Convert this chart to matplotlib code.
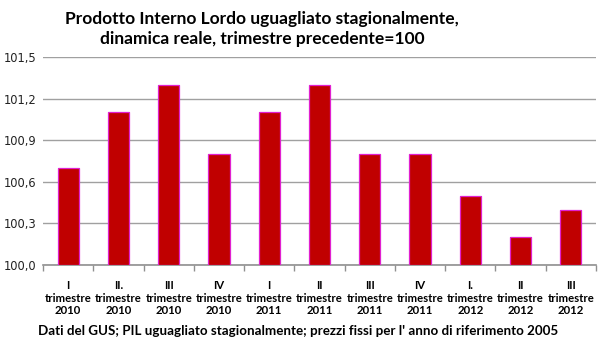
import numpy as np
import matplotlib
matplotlib.use('Agg')
import matplotlib.pyplot as plt

# quarterly GDP, previous quarter = 100
quarters = ['I', 'II.', 'III', 'IV', 'I', 'II', 'III', 'IV', 'I.', 'II', 'III']
years = ['2010', '2010', '2010', '2010', '2011', '2011', '2011', '2011', '2012', '2012', '2012']
values = [100.7, 101.1, 101.3, 100.8, 101.1, 101.3, 100.8, 100.8, 100.5, 100.2, 100.4]
yticks = [100.0, 100.3, 100.6, 100.9, 101.2, 101.5]

fig = plt.figure(figsize=(6, 3.52), dpi=100)
ax = fig.add_axes([43/600, (352-265)/352, 553/600, 208/352])

x = np.arange(len(values)) + 0.5
ax.bar(x, np.array(values) - 100.0, bottom=100.0, width=0.42,
       color='#c00000', edgecolor='#e020d0', linewidth=0.9, zorder=3)

ax.set_xlim(0, len(values))
ax.set_ylim(100.0, 101.5)
ax.set_yticks(yticks)
ax.set_yticklabels([('%.1f' % v).replace('.', ',') for v in yticks],
                   fontsize=8.3, family='DejaVu Sans', color='#222222')
ax.yaxis.grid(True, color='#a0a0a0', linewidth=1.0, zorder=0)
ax.tick_params(axis='y', length=0, pad=5)

ax.set_xticks(np.arange(len(values) + 1))
ax.set_xticklabels([])
ax.tick_params(axis='x', which='major', length=4, color='#909090', width=1)
ax.set_xticks(x, minor=True)
ax.set_xticklabels([q + '\ntrimestre\n' + y for q, y in zip(quarters, years)],
                   minor=True, fontsize=8.2, family='Lato', fontweight='bold',
                   linespacing=1.15)
ax.tick_params(axis='x', which='minor', length=0, pad=11)

for s in ['left', 'right', 'top']:
    ax.spines[s].set_visible(False)
ax.spines['bottom'].set_color('#909090')
ax.spines['bottom'].set_linewidth(1.2)

fig.text(262/600, 1 - 29/352,
         'Prodotto Interno Lordo uguagliato stagionalmente,\ndinamica reale, trimestre precedente=100',
         ha='center', va='center', fontsize=12.5, family='Lato', fontweight='bold',
         linespacing=1.35)
fig.text(38/600, 1 - 331/352,
         "Dati del GUS; PIL uguagliato stagionalmente; prezzi fissi per l' anno di riferimento 2005",
         ha='left', va='center', fontsize=9.6, family='Lato', fontweight='bold')

fig.savefig('out.png', dpi=100)
